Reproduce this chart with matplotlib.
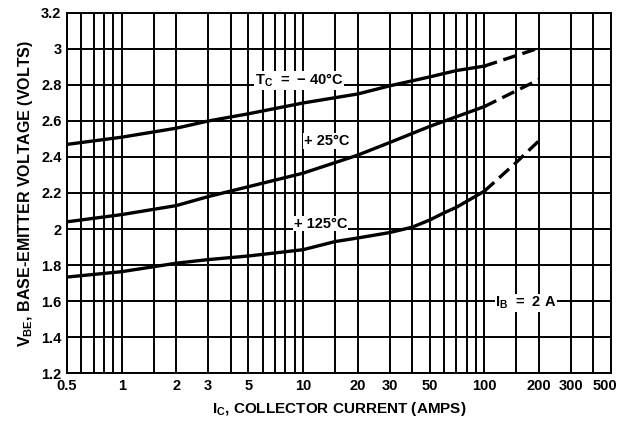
import matplotlib
matplotlib.use("Agg")
import matplotlib.pyplot as plt
import matplotlib.transforms as mtransforms
from matplotlib.ticker import FixedLocator, NullLocator

plt.rcParams['font.family'] = ['Liberation Sans', 'DejaVu Sans']
plt.rcParams['font.weight'] = 'bold'
plt.rcParams['mathtext.fontset'] = 'custom'
plt.rcParams['mathtext.rm'] = 'Liberation Sans:bold'
plt.rcParams['mathtext.bf'] = 'Liberation Sans:bold'

# Data
ic_m40 = [0.5, 1, 2, 3, 5, 10, 20, 30, 50, 70, 100]
vbe_m40 = [2.47, 2.51, 2.56, 2.60, 2.64, 2.70, 2.75, 2.795, 2.845, 2.88, 2.905]
ic_m40_dash = [100, 200]
vbe_m40_dash = [2.905, 3.005]

ic_25 = [0.5, 1, 2, 3, 5, 10, 20, 30, 50, 100]
vbe_25 = [2.04, 2.08, 2.13, 2.18, 2.235, 2.31, 2.41, 2.48, 2.57, 2.68]
ic_25_dash = [100, 200]
vbe_25_dash = [2.68, 2.83]

ic_125 = [0.5, 1, 2, 3, 5, 10, 15, 20, 30, 40, 50, 60, 70, 100]
vbe_125 = [1.733, 1.763, 1.81, 1.83, 1.85, 1.885, 1.93, 1.95, 1.98, 2.01, 2.05, 2.09, 2.12, 2.21]
ic_125_dash = [100, 150, 200]
vbe_125_dash = [2.21, 2.37, 2.49]

x_gridlines = [0.5, 0.6, 0.7, 0.8, 0.9, 1, 1.5, 2, 3, 4, 5, 6, 7, 8, 9, 10, 15,
               20, 30, 40, 50, 60, 70, 80, 90, 100, 150, 200, 300, 400, 500]
x_ticks = [0.5, 1, 2, 3, 5, 10, 20, 30, 50, 100, 200, 300, 500]
x_ticklabels = ['0.5', '1', '2', '3', '5', '10', '20', '30', '50', '100', '200', '300', '500']
y_ticks = [1.2, 1.4, 1.6, 1.8, 2.0, 2.2, 2.4, 2.6, 2.8, 3.0, 3.2]
y_ticklabels = ['1.2', '1.4', '1.6', '1.8', '2', '2.2', '2.4', '2.6', '2.8', '3', '3.2']

fig = plt.figure(figsize=(6.21, 4.26), dpi=100)
ax = fig.add_axes([0.108, 0.1244, 0.876, 0.8451])
ax.set_xscale('log')
ax.set_xlim(0.5, 500)
ax.set_ylim(1.2, 3.2)

for xv in x_gridlines:
    ax.axvline(xv, color='black', lw=1.4, zorder=1)
for yv in y_ticks:
    ax.axhline(yv, color='black', lw=1.4, zorder=1)

lw = 2.4
dash = (0, (4, 2))
ax.plot(ic_m40, vbe_m40, color='black', lw=lw, zorder=3)
ax.plot(ic_m40_dash, vbe_m40_dash, color='black', lw=lw, ls=dash, zorder=3)
ax.plot(ic_25, vbe_25, color='black', lw=lw, zorder=3)
ax.plot(ic_25_dash, vbe_25_dash, color='black', lw=lw, ls=dash, zorder=3)
ax.plot(ic_125, vbe_125, color='black', lw=lw, zorder=3)
ax.plot(ic_125_dash, vbe_125_dash, color='black', lw=lw, ls=dash, zorder=3)

bbox = dict(facecolor='white', edgecolor='none', pad=0.5)
fs = 10.5
ax.text(9.5, 2.825, r'T$_\mathregular{C}$  =  $-$ 40°C', fontsize=fs, ha='center', va='center',
        bbox=bbox, zorder=4)
ax.text(13.5, 2.49, '+ 25°C', fontsize=fs, ha='center', va='center', bbox=bbox, zorder=4)
ax.text(12.5, 2.03, '+ 125°C', fontsize=fs, ha='center', va='center', bbox=bbox, zorder=4)
ax.text(170, 1.59, r'I$_\mathregular{B}$  =  2 A', fontsize=fs, ha='center', va='center',
        bbox=bbox, zorder=4)

ax.xaxis.set_major_locator(FixedLocator(x_ticks))
ax.xaxis.set_minor_locator(NullLocator())
ax.set_xticklabels(x_ticklabels)
ax.set_yticks(y_ticks)
ax.set_yticklabels(y_ticklabels)
ax.tick_params(length=0, labelsize=10.5, pad=4)
for lab in ax.get_xticklabels() + ax.get_yticklabels():
    lab.set_fontweight('bold')
last = ax.get_xticklabels()[-1]
last.set_transform(last.get_transform() + mtransforms.ScaledTranslation(-6 / 100, 0, fig.dpi_scale_trans))
for sp in ax.spines.values():
    sp.set_linewidth(1.4)

ax.set_xlabel(r'I$_\mathregular{C}$, COLLECTOR CURRENT (AMPS)', fontsize=11, fontweight='bold', labelpad=5)
ax.set_ylabel(r'V$_\mathregular{BE}$, BASE-EMITTER VOLTAGE (VOLTS)', fontsize=11.5, fontweight='bold', labelpad=4)

fig.savefig('out.png', dpi=100)
